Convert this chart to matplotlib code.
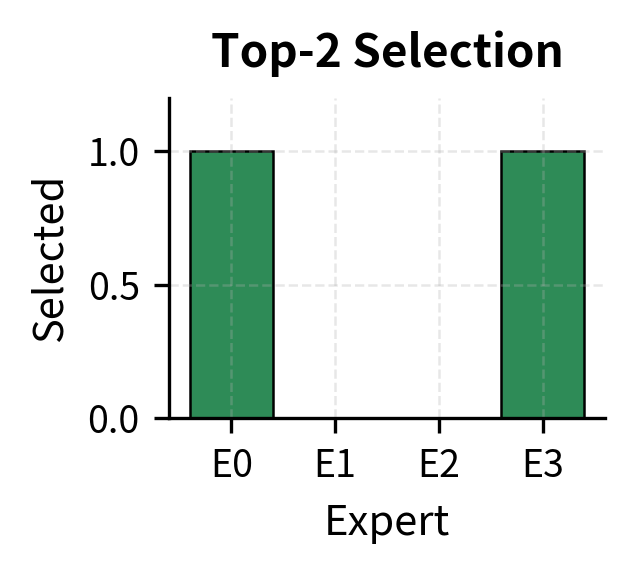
import matplotlib
matplotlib.use('Agg')
import matplotlib.pyplot as plt
import numpy as np

plt.rcParams['font.family'] = ['Noto Sans CJK SC', 'DejaVu Sans']

experts = ['E0', 'E1', 'E2', 'E3']
selected = [1, 0, 0, 1]

fig = plt.figure(figsize=(634 / 300, 574 / 300), dpi=300)
ax = fig.add_axes([169 / 634, 1 - 418 / 574, (605 - 169) / 634, (418 - 98) / 574])

x = np.arange(len(experts))
ax.bar(x, selected, width=0.8, color='#2e8b57', edgecolor='black', linewidth=0.6)
ax.set_xticks(x)
ax.set_xticklabels(experts)
ax.set_yticks([0.0, 0.5, 1.0])
ax.set_ylim(0, 1.2)
ax.set_xlim(-0.6, 3.6)
ax.set_xlabel('Expert', fontsize=10)
ax.set_ylabel('Selected', fontsize=10)
ax.set_title('Top-2 Selection', fontsize=11, fontweight='bold', pad=7.5)
ax.tick_params(labelsize=9, width=0.8, length=3.5)
ax.grid(True, linestyle='--', alpha=0.3, linewidth=0.6)
ax.spines['top'].set_visible(False)
ax.spines['right'].set_visible(False)
for s in ['left', 'bottom']:
    ax.spines[s].set_linewidth(0.8)

fig.savefig('out.png', dpi=300)
